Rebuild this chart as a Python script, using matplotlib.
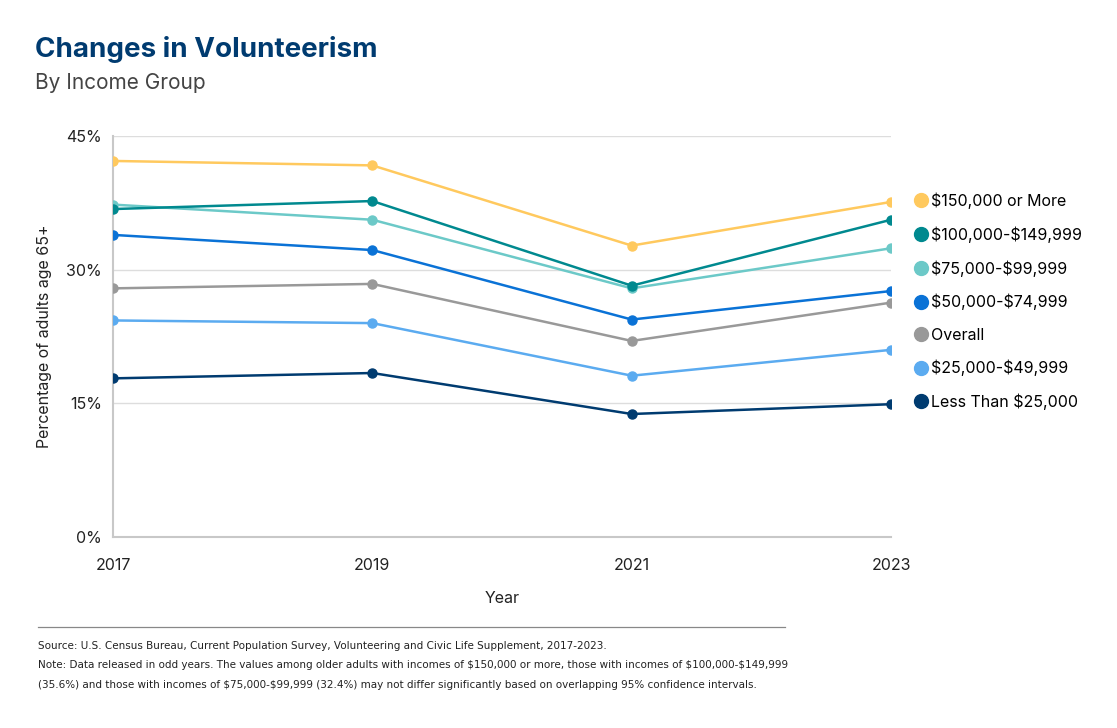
import matplotlib
matplotlib.use("Agg")
import matplotlib.pyplot as plt
from matplotlib.lines import Line2D

plt.rcParams['font.family'] = ['Inter', 'DejaVu Sans']
plt.rcParams['text.parse_math'] = False

anos = ['2017', '2019', '2021', '2023']
grupos = ['$150,000 or More', '$100,000-$149,999', '$75,000-$99,999',
          '$50,000-$74,999', 'Overall', '$25,000-$49,999', 'Less Than $25,000']
cores = ['#FFC95E', '#00898F', '#6CC9C8', '#0A72D6', '#999999', '#5BABF0', '#003B70']

v_150k = [42.2, 41.7, 32.7, 37.6]
v_100k = [36.8, 37.7, 28.2, 35.6]
v_75k = [37.3, 35.6, 27.9, 32.4]
v_50k = [33.9, 32.2, 24.4, 27.6]
v_overall = [27.9, 28.4, 22.0, 26.3]
v_25k = [24.3, 24.0, 18.1, 21.0]
v_menos25k = [17.8, 18.4, 13.8, 14.9]
valores = [v_150k, v_100k, v_75k, v_50k, v_overall, v_25k, v_menos25k]

fig = plt.figure(figsize=(11.17, 7.28), dpi=100)
ax = fig.add_axes([0.1012, 0.2624, 0.6965, 0.5508])

x = list(range(len(anos)))
# desenha de baixo para cima para que as linhas de cima fiquem por cima
for nome, cor, serie in reversed(list(zip(grupos, cores, valores))):
    ax.plot(x, serie, color=cor, linewidth=1.8, marker='o', markersize=6.5, zorder=3)

ax.set_xlim(0, 3)
ax.set_ylim(0, 45)
ax.set_xticks(x)
ax.set_xticklabels(anos)
ax.set_yticks([0, 15, 30, 45])
ax.set_yticklabels(['0%', '15%', '30%', '45%'])
ax.tick_params(axis='both', length=0, labelsize=11.5, colors='#222222')
ax.tick_params(axis='x', pad=15)
ax.tick_params(axis='y', pad=8)

ax.grid(axis='y', color='#DDDDDD', linewidth=1)
ax.set_axisbelow(True)
for lado in ['top', 'right']:
    ax.spines[lado].set_visible(False)
ax.spines['left'].set_color('#C8C8C8')
ax.spines['left'].set_linewidth(1.5)
ax.spines['bottom'].set_color('#C8C8C8')
ax.spines['bottom'].set_linewidth(1.5)

ax.set_xlabel('Year', fontsize=11.5, color='#222222', labelpad=13)
ax.set_ylabel('Percentage of adults age 65+', fontsize=11.5, color='#222222', labelpad=10)

handles = [Line2D([], [], linestyle='none', marker='o', markersize=10, color=c) for c in cores]
ax.legend(handles, grupos, loc='upper left', bbox_to_anchor=(1.02, 0.875), frameon=False,
          fontsize=11.5, handletextpad=0.1, labelspacing=1.08, borderaxespad=0,
          handlelength=1.0)

fig.text(0.031, 0.922, 'Changes in Volunteerism', fontsize=20, fontweight='bold', color='#003B70')
fig.text(0.031, 0.878, 'By Income Group', fontsize=15, color='#444444')

fig.add_artist(Line2D([0.034, 0.703], [0.139, 0.139], color='#888888', linewidth=0.9))
rodape = ('Source: U.S. Census Bureau, Current Population Survey, Volunteering and Civic Life Supplement, 2017-2023.\n'
          'Note: Data released in odd years. The values among older adults with incomes of $150,000 or more, those with incomes of $100,000-$149,999\n'
          '(35.6%) and those with incomes of $75,000-$99,999 (32.4%) may not differ significantly based on overlapping 95% confidence intervals.')
fig.text(0.034, 0.12, rodape, fontsize=7.5, color='#222222', va='top', linespacing=2.2,
         family=['Liberation Sans Narrow', 'DejaVu Sans'])

fig.savefig('out.png', dpi=100, facecolor='white')
